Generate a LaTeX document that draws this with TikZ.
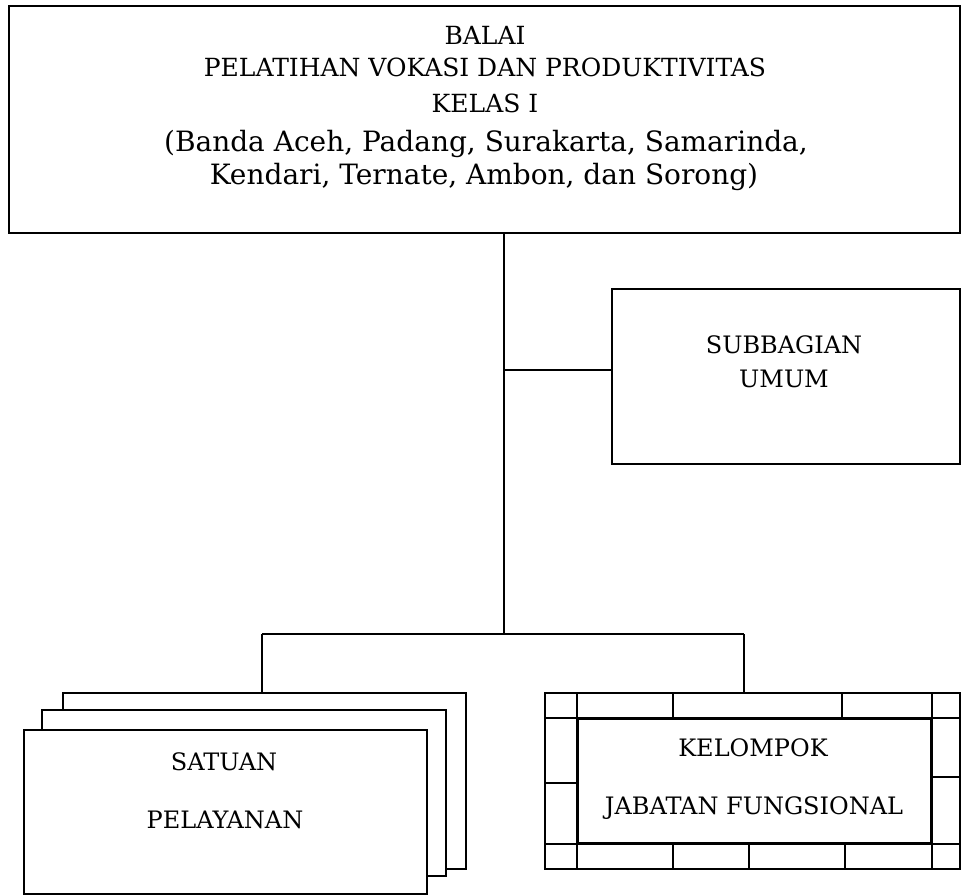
\documentclass[tikz,border=0pt]{standalone}
\usepackage{fontspec}
\setmainfont{DejaVu Serif}
\usetikzlibrary{positioning}

\tikzset{
  unitbox/.style={draw, line width=2pt, fill=white, inner sep=0pt},
  orgline/.style={line width=2pt},
  caplbl/.style={anchor=base, inner sep=0pt, font=\fontsize{24}{28}\selectfont},
  headlbl/.style={anchor=base, inner sep=0pt, font=\fontsize{25}{29}\selectfont},
  citylbl/.style={anchor=base, inner sep=0pt, font=\fontsize{28}{32}\selectfont},
}

\begin{document}
\begin{tikzpicture}[x=1pt, y=-1pt]
    \useasboundingbox (0,0) rectangle (962,896);

    % ============================================================
    % HEAD OF UNIT
    % ============================================================
    \node[unitbox, minimum width=951pt, minimum height=227pt] (balai) at (484.5,119.5) {};
    \node[headlbl] (balaiA) at (485,45) {BALAI};
    \node[headlbl] (balaiB) at (485,77) {PELATIHAN VOKASI DAN PRODUKTIVITAS};
    \node[headlbl] (balaiC) at (485,113) {KELAS I};
    \node[citylbl] (balaiD) at (486,152) {(Banda Aceh, Padang, Surakarta, Samarinda,};
    \node[citylbl] (balaiE) at (484,185) {Kendari, Ternate, Ambon, dan Sorong)};

    % ============================================================
    % SUBBAGIAN UMUM
    % ============================================================
    \node[unitbox, minimum width=348pt, minimum height=175pt] (umum) at (786,376.5) {};
    \node[caplbl] (umumA) at (784,353) {SUBBAGIAN};
    \node[caplbl] (umumB) at (784,388) {UMUM};

    % ============================================================
    % SATUAN PELAYANAN (stacked)
    % ============================================================
    \node[unitbox, minimum width=403pt, minimum height=176pt] (spb) at (264.5,781) {};
    \node[unitbox, minimum width=404pt, minimum height=166pt] (spm) at (244,793) {};
    \node[unitbox, minimum width=403pt, minimum height=164pt] (spf) at (225.5,812) {};
    \node[caplbl] (spA) at (224,770) {SATUAN};
    \node[caplbl] (spB) at (225,828) {PELAYANAN};

    % ============================================================
    % KELOMPOK JABATAN FUNGSIONAL (framed)
    % ============================================================
    \node[unitbox, minimum width=415pt, minimum height=176pt] (jfo) at (752.5,781) {};
    \node[unitbox, minimum width=353pt, minimum height=124pt] (jf) at (754.5,781) {};
    \draw[orgline] (jf.north west -| jfo.west) -- (jf.north east -| jfo.east);
    \draw[orgline] (jf.south west -| jfo.west) -- (jf.south east -| jfo.east);
    \draw[orgline] (jf.north west |- jfo.north) -- (jf.south west |- jfo.south);
    \draw[orgline] (jf.north east |- jfo.north) -- (jf.south east |- jfo.south);
    \foreach \x in {673,842}
        \draw[orgline] (\x,693) -- (\x,719);
    \foreach \x in {673,749,845}
        \draw[orgline] (\x,843) -- (\x,869);
    \draw[orgline] (545,783) -- (578,783);
    \draw[orgline] (931,777) -- (960,777);
    \node[caplbl] (jfA) at (753,756) {KELOMPOK};
    \node[caplbl] (jfB) at (754,814) {JABATAN FUNGSIONAL};

    % ============================================================
    % CONNECTORS
    % ============================================================
    \coordinate (fork) at (504,370);
    \coordinate (bus) at (504,634);
    \coordinate (busL) at (262,634);
    \coordinate (busR) at (744,634);
    \draw[orgline] (balai.south -| bus) -- (bus);
    \draw[orgline] (fork) -- (fork -| umum.west);
    \draw[orgline] (busL) -- (busR);
    \draw[orgline] (busL) -- (busL |- spb.north);
    \draw[orgline] (busR) -- (busR |- jfo.north);

\end{tikzpicture}
\end{document}
